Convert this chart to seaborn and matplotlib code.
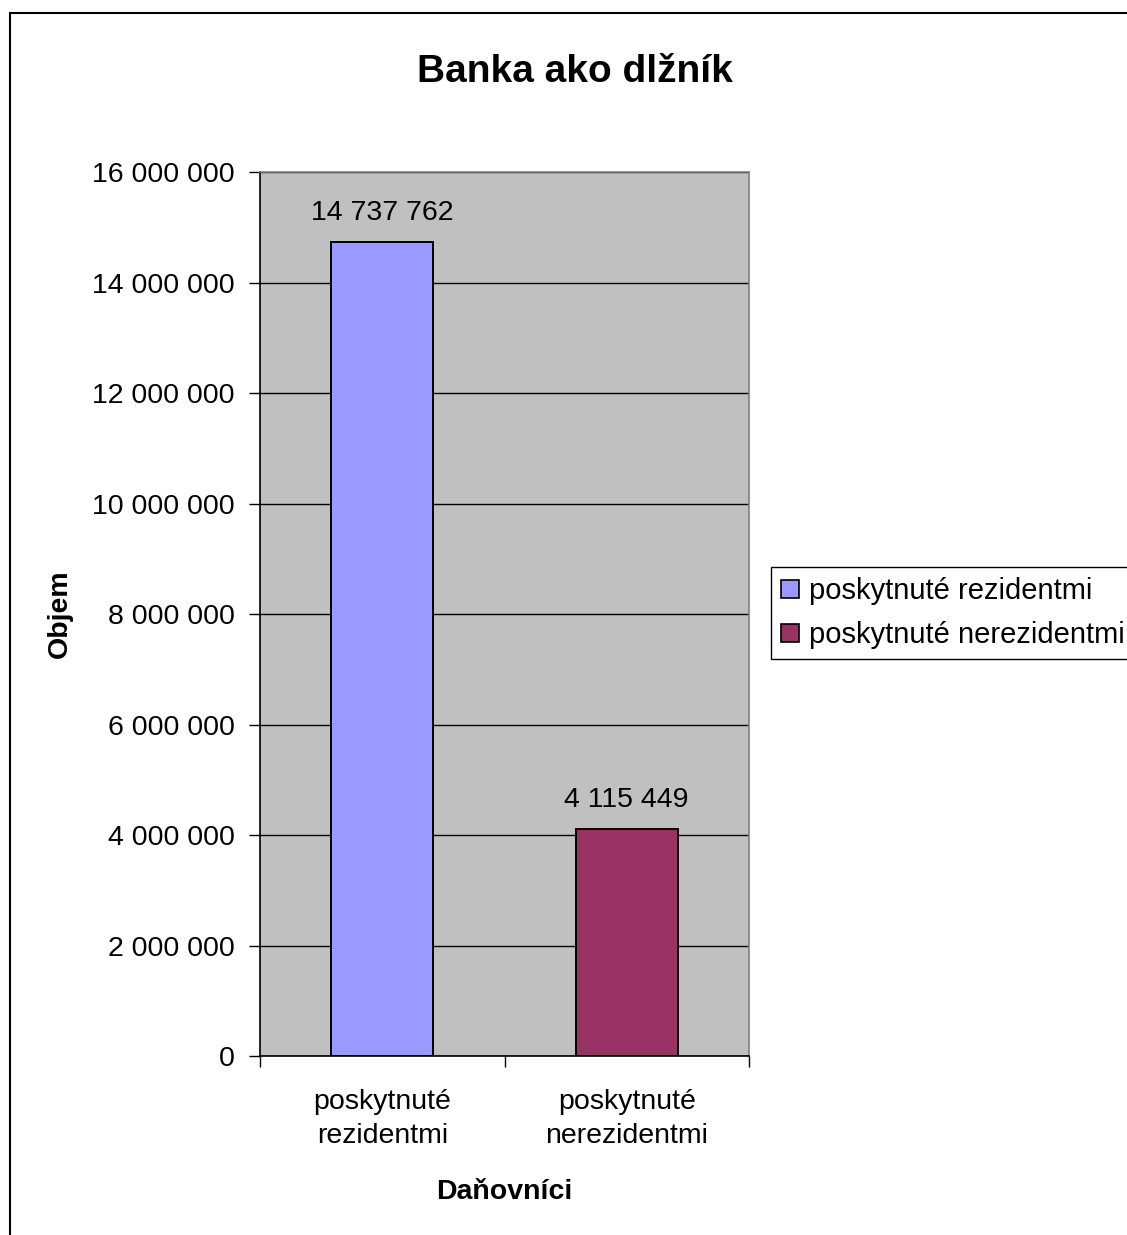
import matplotlib
matplotlib.use("Agg")
import matplotlib.pyplot as plt
from matplotlib.lines import Line2D
from matplotlib.ticker import FuncFormatter, FixedLocator
import seaborn as sns
import pandas as pd

# ---- data ----
categories = ["poskytnuté\nrezidentmi", "poskytnuté\nnerezidentmi"]
series_names = ["poskytnuté rezidentmi", "poskytnuté nerezidentmi"]
values = [14737762, 4115449]
colors = ["#9999FF", "#993366"]
y_ticks = [0, 2000000, 4000000, 6000000, 8000000, 10000000, 12000000, 14000000, 16000000]
title = "Banka ako dlžník"
x_label = "Daňovníci"
y_label = "Objem"

df = pd.DataFrame({"kat": categories, "leg": series_names, "val": values})

sns.set_theme(style="white")
plt.rcParams["font.family"] = ["Liberation Sans", "DejaVu Sans"]
plt.rcParams["text.color"] = "black"
plt.rcParams["axes.labelcolor"] = "black"
plt.rcParams["xtick.color"] = "black"
plt.rcParams["ytick.color"] = "black"

W, H = 1127, 1235
fig = plt.figure(figsize=(W / 100, H / 100), dpi=100)
ax = fig.add_axes([260 / W, 1 - 1056 / H, (749 - 260) / W, (1056 - 172) / H])
ax.set_facecolor("#C0C0C0")

sns.barplot(data=df, x="kat", y="val", hue="leg", palette=colors, dodge=False,
            saturation=1, width=0.417, edgecolor="black", linewidth=1.4, ax=ax, legend=True)

ax.set_ylim(0, 16000000)
ax.set_xlim(-0.5, 1.5)
ax.yaxis.set_major_locator(FixedLocator(y_ticks))
ax.yaxis.set_major_formatter(FuncFormatter(lambda v, p: f"{v:,.0f}".replace(",", " ")))
ax.set_axisbelow(True)
ax.yaxis.grid(True, color="black", linewidth=1.0)
ax.xaxis.grid(False)

# ticks
ax.tick_params(axis="y", which="major", direction="out", length=8, width=1,
               color="black", labelcolor="black", labelsize=20.5, pad=10, left=True)
ax.tick_params(axis="x", which="major", length=0, labelsize=20.5, labelcolor="black", pad=24)
ax.xaxis.set_minor_locator(FixedLocator([-0.5, 0.5, 1.5]))
ax.tick_params(axis="x", which="minor", direction="out", length=8, width=1,
               color="black", bottom=True)
for lbl in ax.get_xticklabels():
    lbl.set_linespacing(1.4)
    lbl.set_ha("center")

# spines
for s in ["left", "bottom"]:
    ax.spines[s].set_color("black")
    ax.spines[s].set_linewidth(1.2)
for s in ["top", "right"]:
    ax.spines[s].set_color("#808080")
    ax.spines[s].set_linewidth(1.2)

# labels
ax.set_xlabel(x_label, fontsize=20.5, fontweight="bold", color="black")
ax.set_ylabel(y_label, fontsize=20.5, fontweight="bold", color="black")
ax.xaxis.set_label_coords(0.5, -(1192 - 1056) / (1056 - 172))
ax.yaxis.set_label_coords((60 - 260) / (749 - 260), 0.5)
ax.xaxis.label.set_va("center")
ax.yaxis.label.set_va("center")

# data labels
for cont in ax.containers:
    ax.bar_label(cont, labels=[f"{v:,.0f}".replace(",", " ") if v == v and v > 0 else "" for v in cont.datavalues],
                 padding=11, fontsize=20.5, color="black")

# title
fig.text(575 / W, 1 - 72 / H, title, ha="center", va="center", fontsize=28,
         fontweight="bold", color="black")

# legend
leg = ax.legend(loc="upper left", bbox_to_anchor=(771 / W, 1 - 567 / H),
                bbox_transform=fig.transFigure, borderaxespad=0, fontsize=21,
                frameon=True, fancybox=False, edgecolor="black", framealpha=1,
                handlelength=0.6, handleheight=0.6, handletextpad=0.35,
                borderpad=0.35, labelspacing=0.55, title=None)
leg.get_frame().set_linewidth(1.0)
for t in leg.get_texts():
    t.set_color("black")
for h in leg.legend_handles:
    h.set_edgecolor("black")
    h.set_linewidth(1.2)

# figure border (top and left visible)
fig.add_artist(Line2D([10 / W, 10 / W], [0, 1 - 13 / H], transform=fig.transFigure,
                      color="black", linewidth=1.5))
fig.add_artist(Line2D([10 / W, 1], [1 - 13 / H, 1 - 13 / H], transform=fig.transFigure,
                      color="black", linewidth=1.5))

fig.savefig("out.png", dpi=100, facecolor="white")
